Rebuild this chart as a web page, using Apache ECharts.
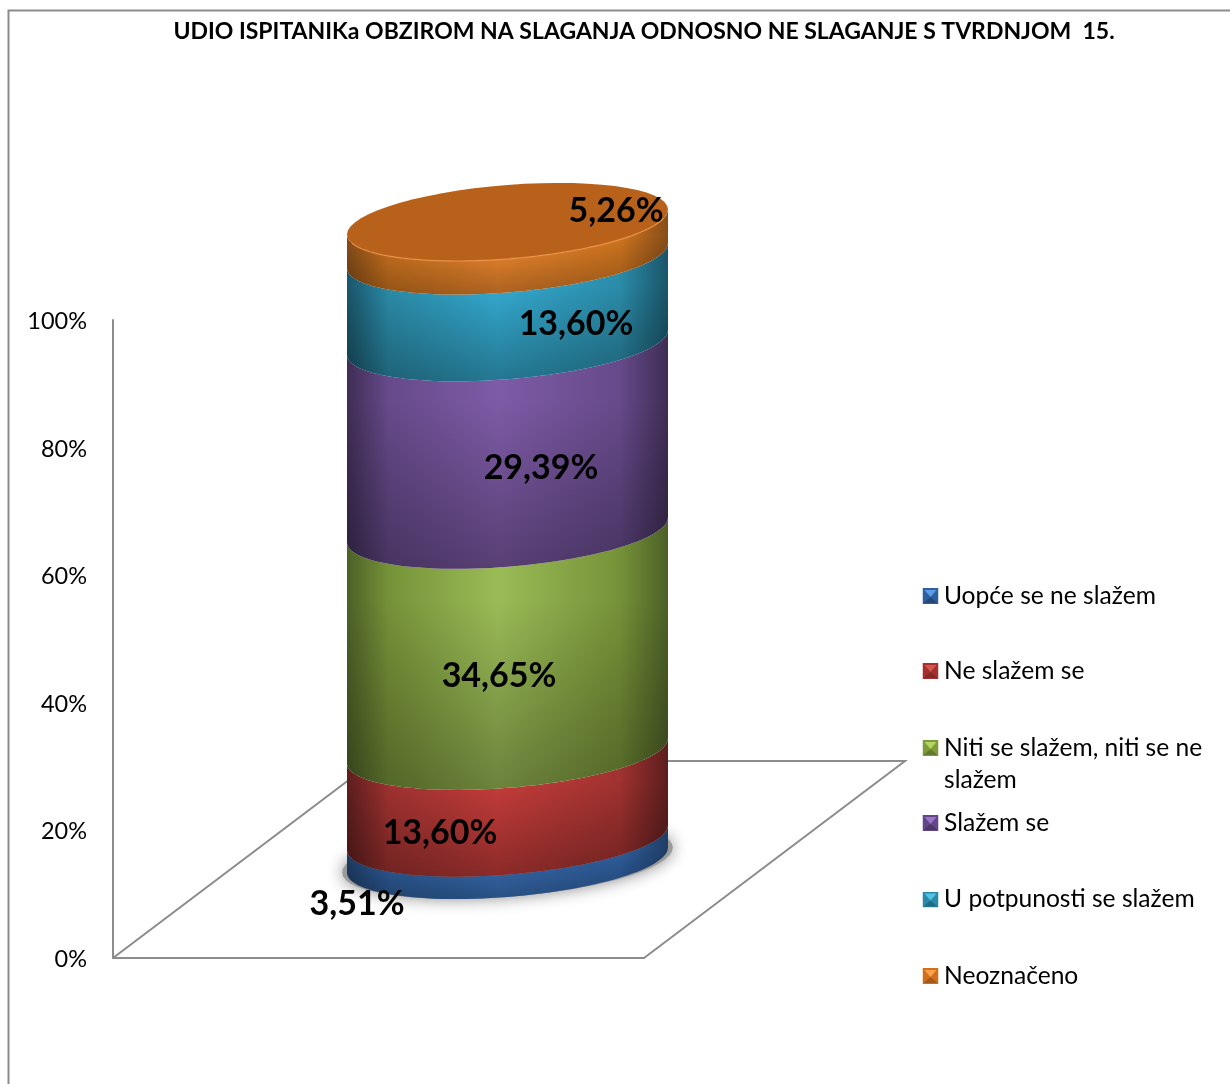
<!DOCTYPE html>
<html><head><meta charset="utf-8">
<style>html,body{margin:0;padding:0;background:#fff}#c{width:1230px;height:1084px}</style>
<script src="https://cdn.jsdelivr.net/npm/echarts@6/dist/echarts.min.js"></script>
</head><body><div id="c"></div>
<script>
const titleText = 'UDIO ISPITANIKa OBZIROM NA SLAGANJA ODNOSNO NE SLAGANJE S TVRDNJOM  15.';
const categories = ['Uopće se ne slažem','Ne slažem se','Niti se slažem, niti se ne slažem','Slažem se','U potpunosti se slažem','Neoznačeno'];
const values = [3.51,13.60,34.65,29.39,13.60,5.26];
const valueLabels = ['3,51%','13,60%','34,65%','29,39%','13,60%','5,26%'];
const axisTicks = [0,20,40,60,80,100];

// styling
const FONT='Lato';
const centreColors=['#3b72ba','#c63d3a','#9abb56','#7e5ba6','#34aad0','#f68c30'];
const midColors   =['#2f5f9e','#a03230','#769238','#664a8a','#2b8ca9','#d0761f'];
const edgeColors  =['#1f3e66','#5c1e1d','#4c6027','#3f2d55','#1a5569','#874d19'];
const iconTop  =['#5b9ce6','#d9544f','#b4d65f','#9a74c9','#4fc4e6','#ffa04a'];
const iconSide =['#2f5f9e','#a3302e','#7f9c3c','#63468a','#2a8aa8','#d0701c'];
const iconBot  =['#24487a','#842826','#617a2d','#4e3669','#1f6c82','#a8591a'];
const labelPix=[[357,904],[440,833],[499,676],[541,468],[576,324],[616,211]];
const SHEAR=12.5, MINOR=37;

function icon(i,tall){
  const h=tall?48:16;
  const svg=`<svg xmlns="http://www.w3.org/2000/svg" width="16" height="${h}" viewBox="0 0 16 ${h}">`+
   `<rect width="16" height="16" fill="${iconSide[i]}"/>`+
   `<polygon points="2,2 14,2 8,9" fill="${iconTop[i]}"/>`+
   `<polygon points="1,15 15,15 8,9" fill="${iconBot[i]}"/></svg>`;
  return 'image://data:image/svg+xml;charset=utf-8,'+encodeURIComponent(svg);
}
function curve(api,v,t0,t1){
  const pts=[];const n=60;
  for(let k=0;k<=n;k++){
    const t=t0+(t1-t0)*k/n,c=Math.cos(t),p=api.coord([c,v]);
    pts.push([p[0],p[1]-SHEAR*c+MINOR*Math.sin(t)]);
  }
  return pts;
}
function makeSeries(i,start,end){
  return {
    type:'custom',name:categories[i],xAxisIndex:1,yAxisIndex:1,clip:false,silent:true,
    itemStyle:{color:centreColors[i]},
    data:[[0,start,end]],encode:{x:0,y:[1,2]},
    renderItem(params,api){
      const lo=api.value(1),hi=api.value(2),kids=[];
      if(i===0){
        const o=api.coord([0,0]);
        kids.push({type:'polygon',originX:o[0],originY:o[1],scaleX:1.03,scaleY:1.0,
          shape:{points:curve(api,0,0,2*Math.PI)},
          style:{fill:'#9a9a9a',shadowBlur:16,shadowColor:'#8a8a8a'},z2:0});
      }
      const pts=curve(api,lo,Math.PI,0).concat(curve(api,hi,0,Math.PI));
      kids.push({type:'polygon',shape:{points:pts},style:{fill:{type:'linear',x:0,y:0,x2:1,y2:0,colorStops:[
        {offset:0,color:edgeColors[i]},{offset:.13,color:midColors[i]},{offset:.47,color:centreColors[i]},{offset:.85,color:midColors[i]},{offset:1,color:edgeColors[i]}]}},z2:1});
      kids.push({type:'polygon',shape:{points:pts},style:{fill:{type:'linear',x:0,y:0,x2:0,y2:1,colorStops:[
        {offset:0,color:'rgba(0,0,0,0)'},{offset:.3,color:'rgba(0,0,0,0)'},{offset:1,color:'rgba(0,0,0,0.3)'}]}},z2:2});
      if(i===categories.length-1){
        kids.push({type:'polygon',shape:{points:curve(api,hi,0,2*Math.PI)},style:{fill:'#b7611a'},z2:3});
        kids.push({type:'polyline',shape:{points:curve(api,hi,.25,Math.PI-.25)},style:{fill:'none',stroke:'#f79646',lineWidth:1.5,opacity:.6},z2:4});
      }
      kids.push({type:'text',x:labelPix[i][0],y:labelPix[i][1],z2:10,style:{text:valueLabels[i],font:`bold 34px ${FONT}`,fill:'#000',align:'center',verticalAlign:'middle'}});
      return {type:'group',children:kids};
    }
  };
}
let acc=0;
const series=values.map((v,i)=>{const s=makeSeries(i,acc,acc+v);acc+=v;return s;});
const legendText={fontFamily:FONT,fontSize:24.6,color:'#000',lineHeight:32};
const oneLegend=(idx,top,gap,tall)=>({
  left:922,top,orient:'vertical',itemWidth:17,itemHeight:tall?48:16,itemGap:gap,selectedMode:false,padding:0,
  textStyle:legendText,
  formatter:n=>n==='Niti se slažem, niti se ne slažem'?'Niti se slažem, niti se ne\nslažem':n,
  data:idx.map(i=>({name:categories[i],icon:icon(i,tall)}))
});
const chart=echarts.init(document.getElementById('c'));
chart.setOption({
  animation:false,backgroundColor:'#fff',
  title:{text:titleText,left:644,top:20,textAlign:'center',padding:0,textStyle:{fontFamily:FONT,fontWeight:'bold',fontSize:23,color:'#000'}},
  legend:[oneLegend([0,1],580,43,false),oneLegend([2],732,43,true),oneLegend([3,4,5],807,44.5,false)],
  grid:[{left:113,width:531,top:320,height:638},{left:347,width:321,top:222,height:638}],
  xAxis:[
    {type:'category',gridIndex:0,data:[''],axisTick:{show:false},axisLabel:{show:false},axisLine:{lineStyle:{color:'#8c8c8c',width:2}}},
    {type:'value',gridIndex:1,min:-1,max:1,show:false}],
  yAxis:[
    {type:'value',gridIndex:0,min:axisTicks[0],max:axisTicks[axisTicks.length-1],interval:20,
     axisLine:{show:true,lineStyle:{color:'#8c8c8c',width:2}},axisTick:{show:false},splitLine:{show:false},
     axisLabel:{margin:26,verticalAlign:'top',lineHeight:3,fontFamily:FONT,fontSize:23.5,color:'#000',formatter:'{value}%'}},
    {type:'value',gridIndex:1,min:0,max:100,show:false}],
  graphic:[
    {type:'polyline',z:0,silent:true,shape:{points:[[8.5,1084],[8.5,10.5],[1230,10.5]]},style:{fill:'none',stroke:'#8c8c8c',lineWidth:2}},
    {type:'polyline',z:0,silent:true,shape:{points:[[113,958],[374,761],[905,761],[644,958]]},style:{fill:'none',stroke:'#8c8c8c',lineWidth:2}}
  ],
  series
});
</script></body></html>
